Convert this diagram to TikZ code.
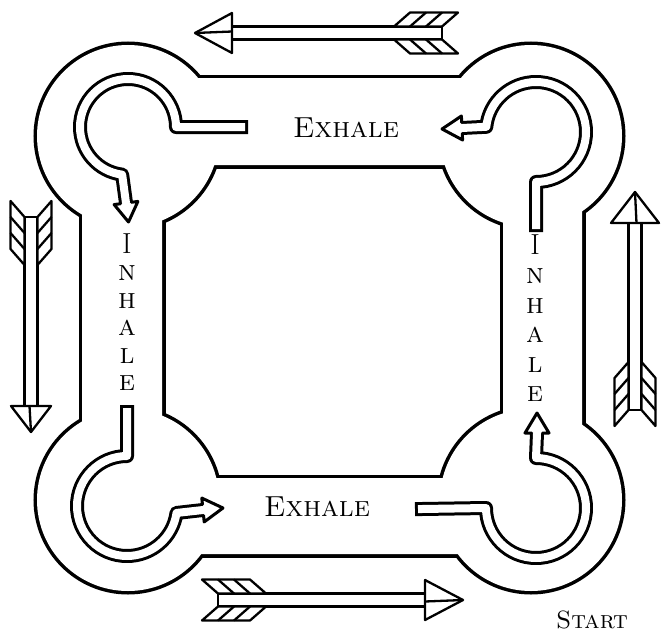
\documentclass[tikz,border=0pt]{standalone}
\usetikzlibrary{calc}
\tikzset{
  trk/.style={line width=7pt},
  band/.style={double distance=8pt, line width=3pt, line cap=rect, line join=round},
  hline/.style={line width=3pt, line join=round, line cap=round},
  lbl/.style={inner sep=0pt, font=\fontsize{29}{29}\selectfont},
  pics/fletched/.style n args={3}{code={
    \begin{scope}[line width=2.3pt, line join=round]
      \filldraw[fill=white] (0,-6.5) rectangle (#1-#2,6.5);
      \foreach \s in {1,-1}{
        \filldraw[fill=white] (0,6.5*\s) -- (48,6.5*\s) -- (32,20.5*\s) -- (-16,20.5*\s) -- cycle;
        \draw (16,6.5*\s) -- (0,20.5*\s) (32,6.5*\s) -- (16,20.5*\s);
      }
      \filldraw[fill=white] (#1-#2,-#3) -- (#1,0) -- (#1-#2,#3) -- cycle;
      \draw (#1,0) -- (#1-#2,1.5);
    \end{scope}
  }},
}
\newcommand\curlhead[2]{%
  \fill[white] ($(#1)!12pt!90:(#2)$) -- (#2) -- ($(#1)!12pt!-90:(#2)$) -- cycle;
  \draw[hline] ($(#1)!5.5pt!90:(#2)$) -- ($(#1)!12pt!90:(#2)$) -- (#2) -- ($(#1)!12pt!-90:(#2)$) -- ($(#1)!5.5pt!-90:(#2)$);
}
\begin{document}
\begin{tikzpicture}[x=1pt,y=-1pt]
\useasboundingbox (0,0) rectangle (661,634);
% track outline
\draw[trk] (82,78) rectangle (582,554) (162,165) rectangle (503,478);
\foreach \p in {(128,136),(531,136),(128,500),(531,500)} \draw[trk] \p circle[radius=91];
\fill[white,even odd rule] (82,78) rectangle (582,554) (162,165) rectangle (503,478);
\foreach \p in {(128,136),(531,136),(128,500),(531,500)} \fill[white] \p circle[radius=91];
% curled arrows
\coordinate (tlB) at (126,203); \coordinate (tlT) at (128.5,222);
\draw[band] (241,127) -- (176,127) arc[start angle=0,end angle=-263,radius=48] -- (tlB);
\curlhead{tlB}{tlT}
\coordinate (trB) at (462,128); \coordinate (trT) at (442,129);
\draw[band] (536,225) -- (536,182) arc[start angle=90,end angle=-174,radius=50] -- (trB);
\curlhead{trB}{trT}
\coordinate (blB) at (203,510); \coordinate (blT) at (223,508);
\draw[band] (127,412) -- (127,456) arc[start angle=270,end angle=8,radius=50] -- (blB);
\curlhead{blB}{blT}
\coordinate (brB) at (537,433); \coordinate (brT) at (537,413);
\draw[band] (422,509) -- (486,508) arc[start angle=180,end angle=-90,radius=50] -- (brB);
\curlhead{brB}{brT}
% labels
\node[lbl] (ex1) at (346,128) {\textsc{Exhale}};
\node[lbl] (ex2) at (317,507) {\textsc{Exhale}};
\node[lbl, anchor=north, align=center, font=\fontsize{29}{27.5}\selectfont] (in1) at (127,233) {I\\\textsc{n}\\\textsc{h}\\\textsc{a}\\\textsc{l}\\\textsc{e}};
\node[lbl, anchor=north, align=center, font=\fontsize{29}{29.5}\selectfont] (in2) at (535,234) {I\\\textsc{n}\\\textsc{h}\\\textsc{a}\\\textsc{l}\\\textsc{e}};
\node[inner sep=0pt, font=\fontsize{25}{25}\selectfont] (st) at (592,620) {\textsc{Start}};
% big arrows
\pic[rotate=180] (atop) at (442,33) {fletched={247}{37}{20}};
\pic[rotate=-90] (aleft) at (31,217) {fletched={215}{26}{20}};
\pic[rotate=90] (aright) at (635,410) {fletched={218}{31}{24}};
\pic (abot) at (218,600) {fletched={245}{38}{20}};
\end{tikzpicture}
\end{document}
